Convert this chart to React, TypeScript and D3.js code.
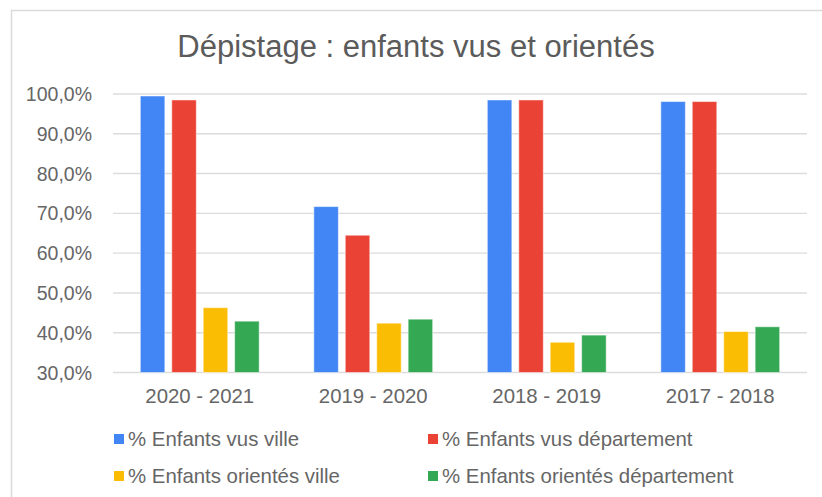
import React, { useEffect, useRef } from 'react';
import * as d3 from 'd3';

const categories = ['2020 - 2021', '2019 - 2020', '2018 - 2019', '2017 - 2018'];
const seriesNames = [
  '% Enfants vus ville',
  '% Enfants vus département',
  '% Enfants orientés ville',
  '% Enfants orientés département',
];
const vusVille = [99.5, 71.7, 98.5, 98.1];
const vusDepartement = [98.5, 64.5, 98.5, 98.1];
const orientesVille = [46.3, 42.4, 37.6, 40.3];
const orientesDepartement = [42.9, 43.4, 39.4, 41.5];
const yTicks = [30, 40, 50, 60, 70, 80, 90, 100];
const colors = ['#4285F4', '#EA4335', '#FBBC04', '#34A853'];

function App() {
  const svgRef = useRef<SVGSVGElement>(null);

  useEffect(() => {
    if (!svgRef.current) return;
    document.body.style.margin = '0';

    const width = 822;
    const height = 497;
    const margin = { top: 94, right: 15, bottom: 124, left: 113 };
    const font = '"Liberation Sans", Arial, sans-serif';
    const series = [vusVille, vusDepartement, orientesVille, orientesDepartement];

    d3.select(svgRef.current).selectAll('*').remove();

    const svg = d3.select(svgRef.current)
      .attr('width', width)
      .attr('height', height)
      .attr('viewBox', `0 0 ${width} ${height}`)
      .style('display', 'block')
      .style('font-family', font);

    svg.append('rect')
      .attr('width', width)
      .attr('height', height)
      .attr('fill', 'white');

    // frame of the chart (top and left edges visible)
    svg.append('path')
      .attr('d', `M11.5,${height} L11.5,10.5 L${width},10.5`)
      .attr('fill', 'none')
      .attr('stroke', '#dadada')
      .attr('stroke-width', 1.5);

    svg.append('text')
      .attr('x', 416)
      .attr('y', 57)
      .attr('text-anchor', 'middle')
      .attr('font-size', '31px')
      .attr('fill', '#5b5b5b')
      .text('Dépistage : enfants vus et orientés');

    const x0 = d3.scaleBand()
      .domain(categories)
      .range([margin.left, width - margin.right])
      .paddingInner(0.315)
      .paddingOuter(0.1575);

    const x1 = d3.scaleBand()
      .domain(d3.range(series.length).map(String))
      .range([0, x0.bandwidth()])
      .paddingInner(0.22);

    const y = d3.scaleLinear()
      .domain([30, 100])
      .range([height - margin.bottom - 0.5, margin.top]);

    const grid = svg.append('g');
    yTicks.forEach(t => {
      grid.append('line')
        .attr('x1', margin.left)
        .attr('x2', width - margin.right)
        .attr('y1', y(t))
        .attr('y2', y(t))
        .attr('stroke', '#dcdcdc')
        .attr('stroke-width', 1.4);

      grid.append('text')
        .attr('x', 92)
        .attr('y', y(t))
        .attr('dy', '0.36em')
        .attr('text-anchor', 'end')
        .attr('font-size', '19.5px')
        .attr('fill', '#666')
        .text(d3.format('.1f')(t).replace('.', ',') + '%');
    });

    const groups = svg.append('g')
      .selectAll('g')
      .data(categories)
      .join('g')
      .attr('transform', d => `translate(${x0(d)},0)`);

    groups.selectAll('rect')
      .data((_, i) => series.map((s, k) => ({ k, v: s[i] })))
      .join('rect')
      .attr('x', d => x1(String(d.k)) as number)
      .attr('width', x1.bandwidth())
      .attr('y', d => y(d.v))
      .attr('height', d => y(30) - y(d.v))
      .attr('fill', d => colors[d.k])
      .attr('stroke', 'white')
      .attr('stroke-opacity', 0.5)
      .attr('stroke-width', 1);

    svg.append('g')
      .selectAll('text')
      .data(categories)
      .join('text')
      .attr('x', d => (x0(d) as number) + x0.bandwidth() / 2)
      .attr('y', 403)
      .attr('text-anchor', 'middle')
      .attr('font-size', '20.4px')
      .attr('fill', '#666')
      .text(d => d);

    // legend, two columns by two rows
    const legendCols = [114, 428];
    const legendRows = [439, 476];
    const legend = svg.append('g');
    seriesNames.forEach((name, k) => {
      const lx = legendCols[k % 2];
      const ly = legendRows[Math.floor(k / 2)];
      legend.append('rect')
        .attr('x', lx)
        .attr('y', ly - 5)
        .attr('width', 10)
        .attr('height', 10)
        .attr('fill', colors[k]);
      legend.append('text')
        .attr('x', lx + 14)
        .attr('y', ly)
        .attr('dy', '0.36em')
        .attr('font-size', '20.4px')
        .attr('fill', '#666')
        .text(name);
    });
  }, []);

  return (
    <div>
      <svg ref={svgRef}></svg>
    </div>
  );
}

export default App;
